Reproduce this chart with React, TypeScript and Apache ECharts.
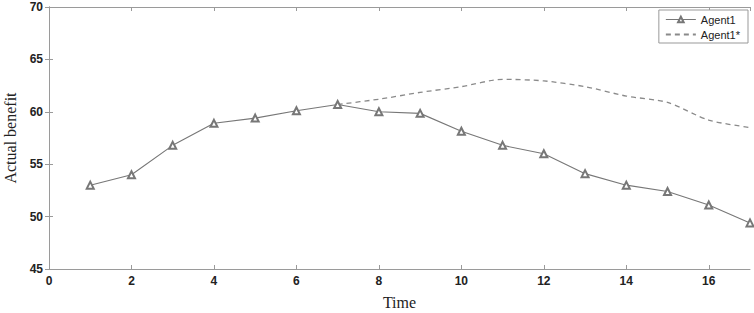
import React, { useEffect, useRef } from "react";
import * as echarts from "echarts";

const times = [1, 2, 3, 4, 5, 6, 7, 8, 9, 10, 11, 12, 13, 14, 15, 16, 17];
const agent1 = [53.0, 54.0, 56.8, 58.9, 59.4, 60.1, 60.7, 60.0, 59.85, 58.15, 56.8, 56.0, 54.1, 53.0, 52.4, 51.1, 49.4];
const agent1StarTimes = [7, 8, 9, 10, 11, 12, 13, 14, 15, 16, 17];
const agent1Star = [60.7, 61.2, 61.85, 62.4, 63.1, 62.95, 62.4, 61.5, 60.9, 59.2, 58.5];

export default function App() {
  const ref = useRef<HTMLDivElement>(null);
  useEffect(() => {
    document.body.style.margin = "0";
    const chart = echarts.init(ref.current!, null, { renderer: "svg" });
    const axisColor = "#9a9a9a";
    const tick = { show: true, inside: true, length: 4, lineStyle: { color: axisColor } };
    chart.setOption({
      animation: false,
      grid: { left: 49, right: 4, top: 7, bottom: 44, outerBoundsMode: "none", containLabel: false },
      legend: {
        right: 6,
        top: 10,
        orient: "vertical",
        itemWidth: 30,
        itemHeight: 7,
        itemGap: 4,
        padding: [4, 8, 3, 6],
        borderColor: "#999",
        borderWidth: 1,
        backgroundColor: "#fff",
        textStyle: { fontFamily: "Liberation Sans, Arial", fontSize: 11, color: "#222" },
        data: [
          { name: "Agent1", lineStyle: { width: 1 } },
          { name: "Agent1*", itemStyle: { opacity: 0 } },
        ],
      },
      xAxis: [
        {
          type: "value",
          min: 0,
          max: 17,
          interval: 2,
          name: "Time",
          nameLocation: "middle",
          nameGap: 25,
          nameTextStyle: { fontFamily: "Liberation Serif, Times New Roman, serif", fontSize: 16, color: "#222" },
          axisLine: { show: true, lineStyle: { color: axisColor } },
          axisTick: tick,
          splitLine: { show: false },
          axisLabel: {
            showMaxLabel: false,
            margin: 6,
            fontFamily: "Liberation Sans, Arial",
            fontWeight: "bold",
            fontSize: 12,
            color: "#222",
          },
        },
        {
          type: "value",
          position: "top",
          min: 0,
          max: 17,
          interval: 2,
          axisLine: { show: true, lineStyle: { color: axisColor } },
          axisTick: tick,
          splitLine: { show: false },
          axisLabel: { show: false },
        },
      ],
      yAxis: [
        {
          type: "value",
          min: 45,
          max: 70,
          interval: 5,
          name: "Actual benefit",
          nameLocation: "middle",
          nameGap: 29,
          nameTextStyle: { fontFamily: "Liberation Serif, Times New Roman, serif", fontSize: 16, color: "#222" },
          axisLine: { show: true, lineStyle: { color: axisColor } },
          axisTick: tick,
          splitLine: { show: false },
          axisLabel: {
            margin: 6,
            fontFamily: "Liberation Sans, Arial",
            fontWeight: "bold",
            fontSize: 12,
            color: "#222",
          },
        },
        {
          type: "value",
          position: "right",
          min: 45,
          max: 70,
          interval: 5,
          axisLine: { show: true, lineStyle: { color: axisColor } },
          axisTick: tick,
          splitLine: { show: false },
          axisLabel: { show: false },
        },
      ],
      series: [
        {
          name: "Agent1*",
          type: "line",
          data: agent1StarTimes.map((t, i) => [t, agent1Star[i]]),
          smooth: 0.25,
          symbol: "none",
          lineStyle: { color: "#8a8a8a", width: 1.3, type: [5, 4] },
          itemStyle: { color: "#8a8a8a" },
          z: 2,
        },
        {
          name: "Agent1",
          type: "line",
          data: times.map((t, i) => [t, agent1[i]]),
          symbol: "emptyTriangle",
          symbolSize: 7,
          lineStyle: { color: "#777", width: 1.1 },
          itemStyle: { color: "#777", borderWidth: 0.6 },
          z: 3,
        },
      ],
    });
    return () => chart.dispose();
  }, []);
  return <div ref={ref} style={{ width: 754, height: 313 }} />;
}
